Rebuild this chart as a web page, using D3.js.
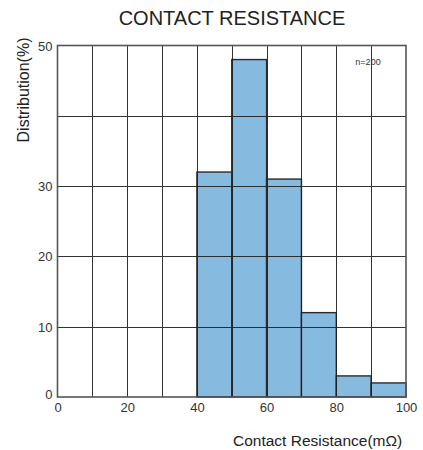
<!DOCTYPE html>
<html>
<head>
<meta charset="utf-8">
<script src="https://cdn.jsdelivr.net/npm/d3@7"></script>
<style>
  html, body { margin: 0; padding: 0; background: #fff; }
  svg { display: block; font-family: "Liberation Sans", Arial, sans-serif; }
</style>
</head>
<body>
<svg id="chart" width="423" height="450"></svg>
<script>
const binStarts = [40, 50, 60, 70, 80, 90];
const binWidth = 10;
const distribution = [32, 48, 31, 12, 3, 2];
const xTickValues = [0, 20, 40, 60, 80, 100];
const yTickValues = [0, 10, 20, 30, 50];
const xGridValues = [10, 20, 30, 40, 50, 60, 70, 80, 90];
const yGridValues = [10, 20, 30, 40];
const titleText = "CONTACT RESISTANCE";
const xLabel = "Contact Resistance(mΩ)";
const yLabel = "Distribution(%)";
const noteText = "n=200";

const svg = d3.select("#chart");
const plotLeft = 57.5, plotRight = 406, plotTop = 45.5, plotBottom = 397;

const x = d3.scaleLinear().domain([0, 100]).range([plotLeft, plotRight]);
const y = d3.scaleLinear().domain([0, 50]).range([plotBottom, plotTop]);

// bars
svg.append("g").selectAll("rect")
  .data(binStarts)
  .join("rect")
  .attr("x", (d) => x(d))
  .attr("width", (d) => x(d + binWidth) - x(d))
  .attr("y", (d, i) => y(distribution[i]))
  .attr("height", (d, i) => y(0) - y(distribution[i]))
  .attr("fill", "#86bade")
  .attr("stroke", "#2b2b2b")
  .attr("stroke-width", 1.4);

// grid lines (drawn over bars)
const grid = svg.append("g").attr("stroke", "#1e1e1e").attr("stroke-width", 1).attr("opacity", 0.9);
grid.selectAll("line.v").data(xGridValues).join("line")
  .attr("class", "v")
  .attr("x1", (d) => Math.round(x(d)) + 0.5).attr("x2", (d) => Math.round(x(d)) + 0.5)
  .attr("y1", plotTop).attr("y2", plotBottom);
grid.selectAll("line.h").data(yGridValues).join("line")
  .attr("class", "h")
  .attr("y1", (d) => Math.round(y(d)) + 0.5).attr("y2", (d) => Math.round(y(d)) + 0.5)
  .attr("x1", plotLeft).attr("x2", plotRight);

// frame
svg.append("rect")
  .attr("x", plotLeft).attr("y", plotTop)
  .attr("width", plotRight - plotLeft).attr("height", plotBottom - plotTop)
  .attr("fill", "none").attr("stroke", "#555").attr("stroke-width", 1.6);

// axes (labels only)
const xAxis = d3.axisBottom(x).tickValues(xTickValues).tickSize(0).tickPadding(0).tickFormat(d3.format("d"));
const gx = svg.append("g").attr("transform", `translate(0,${plotBottom})`).call(xAxis);
gx.select(".domain").remove();
gx.selectAll("text").attr("dy", null).attr("y", 15).attr("fill", "#333")
  .style("font-size", "13px").style("font-family", "'Liberation Sans', Arial, sans-serif");

const yAxis = d3.axisLeft(y).tickValues(yTickValues).tickSize(0).tickPadding(5).tickFormat(d3.format("d"));
const gy = svg.append("g").attr("transform", `translate(${plotLeft},0)`).call(yAxis);
gy.select(".domain").remove();
gy.selectAll("text").attr("fill", "#333").attr("dy", (d) => d === 0 ? "0.1em" : "0.35em")
  .style("font-size", "13px").style("font-family", "'Liberation Sans', Arial, sans-serif");

// title
svg.append("text").attr("x", 232).attr("y", 25).attr("text-anchor", "middle")
  .attr("fill", "#222").style("font-size", "20px").text(titleText);

// axis labels
svg.append("text").attr("x", 233).attr("y", 446).attr("text-anchor", "start")
  .attr("fill", "#222").style("font-size", "15.5px").text(xLabel);
svg.append("text").attr("transform", "translate(29,90) rotate(-90)").attr("text-anchor", "middle")
  .attr("fill", "#222").style("font-size", "16px").text(yLabel);

// note
svg.append("text").attr("x", 368).attr("y", 65).attr("text-anchor", "middle")
  .attr("fill", "#333").style("font-size", "9px").text(noteText);
</script>
</body>
</html>
